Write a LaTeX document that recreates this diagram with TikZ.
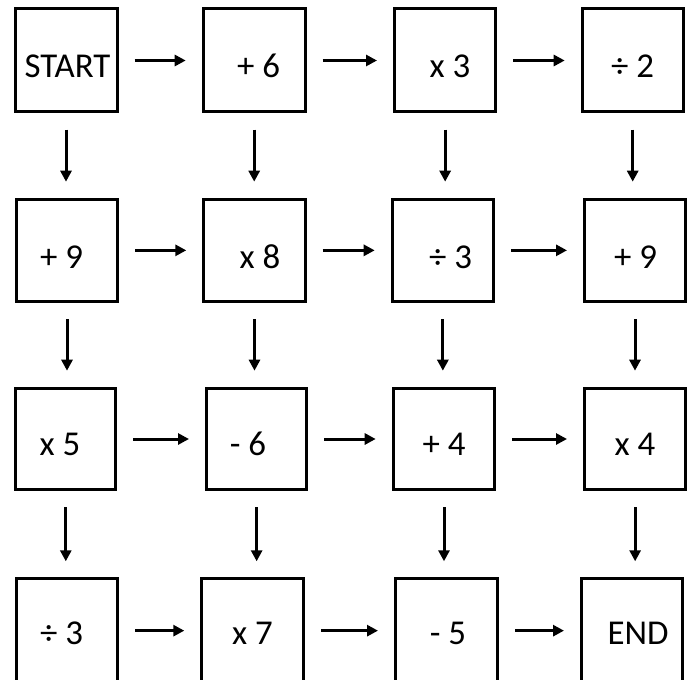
\documentclass[tikz,border=0pt]{standalone}
\usepackage{fontspec}
\setmainfont{Carlito}
\usetikzlibrary{arrows.meta}
\tikzset{
  opbox/.style={draw=black, line width=3bp, fill=white, inner sep=0pt, rectangle},
  optext/.style={anchor=base, inner sep=0pt, font=\fontsize{35}{40}\selectfont},
  flow/.style={draw=black, line width=3bp, -{Triangle[length=11bp,width=11bp]}, shorten <=16bp, shorten >=16bp}
}
\newcommand\opbox[5]{%
  \node[opbox, minimum width={(#4-#2-3)*1bp}, minimum height={(#5-#3-3)*1bp}] (#1) at ({(#2+#4)/2},{(#3+#5)/2}) {};}
\begin{document}
\begin{tikzpicture}[x=1bp, y=-1bp]
\useasboundingbox (0,0) rectangle (688,680);
% row 1
\opbox{b11}{13.5}{7.5}{118.5}{113.5}
\opbox{b12}{201.7}{7.5}{306.7}{113.5}
\opbox{b13}{393}{7.5}{497.3}{113.5}
\opbox{b14}{580.7}{7.5}{684.7}{113.5}
% row 2
\opbox{b21}{14.7}{197.7}{119.3}{303}
\opbox{b22}{202.3}{197.7}{306.7}{303}
\opbox{b23}{390.7}{197.7}{495}{303}
\opbox{b24}{583}{197.7}{687}{303}
% row 3
\opbox{b31}{14.3}{386.7}{117.3}{491.3}
\opbox{b32}{205}{386.7}{308.3}{491.3}
\opbox{b33}{391.7}{386.7}{496.3}{491.3}
\opbox{b34}{583}{386.7}{687.3}{491.3}
% row 4
\opbox{b41}{15}{577.3}{119.3}{684}
\opbox{b42}{200.3}{577.3}{305.3}{684}
\opbox{b43}{394}{577.3}{499}{684}
\opbox{b44}{580}{577.3}{684}{684}
% texts
\node[optext] (t11) at (67.5,77.3) {START};
\node[optext] (t12) at (258.5,77.3) {+ 6};
\node[optext] (t13) at (450,77.3) {x 3};
\node[optext] (t14) at (632.5,77.3) {÷ 2};
\node[optext] (t21) at (61.5,268) {+ 9};
\node[optext] (t22) at (260,268) {x 8};
\node[optext] (t23) at (450.5,268) {÷ 3};
\node[optext] (t24) at (635.5,268) {+ 9};
\node[optext] (t31) at (60,455) {x 5};
\node[optext] (t32) at (248,455) {- 6};
\node[optext] (t33) at (444,455) {+ 4};
\node[optext] (t34) at (635,455) {x 4};
\node[optext] (t41) at (61.7,644) {÷ 3};
\node[optext] (t42) at (252.5,644) {x 7};
\node[optext] (t43) at (448,644) {- 5};
\node[optext] (t44) at (638,644) {END};
% horizontal arrows
\foreach \r in {1,2,3,4}{
  \foreach \a/\b in {1/2,2/3,3/4}{
    \draw[flow] (b\r\a.east) -- (b\r\a.east -| b\r\b.west);
  }
}
% vertical arrows
\foreach \c in {1,2,3,4}{
  \foreach \a/\b in {1/2,2/3,3/4}{
    \draw[flow] (b\a\c.south) -- (b\a\c.south |- b\b\c.north);
  }
}
\end{tikzpicture}
\end{document}
